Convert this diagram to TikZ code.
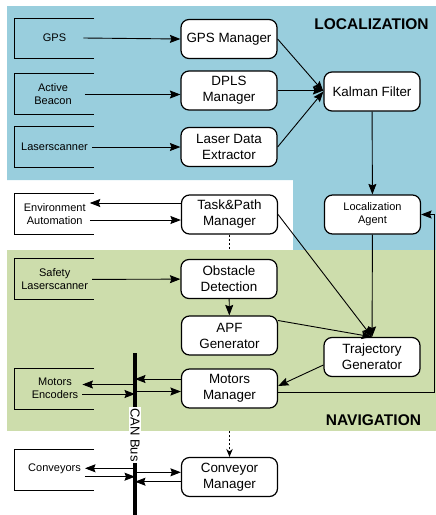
\documentclass[tikz,border=0pt]{standalone}
\usepackage{fontspec}
\setmainfont{Liberation Sans}
\usetikzlibrary{arrows.meta}
\definecolor{locblue}{RGB}{153,206,221}
\definecolor{navgreen}{RGB}{205,221,172}
\tikzstyle{module}=[draw,fill=white,rounded corners=8pt,line width=1.2pt,minimum width=96pt,minimum height=39pt,align=center,inner sep=1pt,font=\fontsize{13.4}{16}\selectfont]
\tikzstyle{srcbox}=[minimum width=79pt,minimum height=40pt,inner sep=0pt]
\tikzstyle{srctext}=[align=center,inner sep=4pt,font=\fontsize{11}{13}\selectfont]
\tikzstyle{region}=[font=\bfseries\fontsize{15.5}{18}\selectfont]
\tikzstyle{arr}=[line width=0.9pt,-{Stealth[length=10.5pt,width=8pt,inset=1.5pt]}]
\tikzstyle{link}=[line width=0.9pt,dash pattern=on 2pt off 2pt]
\newcommand{\openframe}[1]{\draw[line width=1.1pt] (#1.north east) -- (#1.north west) -- (#1.south west) -- (#1.south east);}

\begin{document}
\begin{tikzpicture}[x=1pt,y=-1pt]
    \useasboundingbox (0,0) rectangle (436,515);
    % areas
    \fill[locblue] (7,6) -- (436,6) -- (436,250) -- (293,250) -- (293,180) -- (7,180) -- cycle;
    \fill[navgreen] (7,250) rectangle (436,431);
    \node[region] (loc) at (371.5,24.5) {LOCALIZATION};
    \node[region] (nav) at (373.5,420.5) {NAVIGATION};

    % sources
    \node[srcbox] (gpsf) at (54.5,38.5) {};
    \node[srcbox] (beaconf) at (54.5,94) {};
    \node[srcbox] (lscf) at (54.5,147) {};
    \node[srcbox] (envf) at (54.5,214) {};
    \node[srcbox] (safetyf) at (54.5,279) {};
    \node[srcbox] (encf) at (54.5,389) {};
    \node[srcbox] (convf) at (54.5,470) {};
    \foreach \f in {gpsf,beaconf,lscf,envf,safetyf,encf,convf}
    {\openframe{\f}}

    \node[srctext] (gps) at (54.5,38) {GPS};
    \node[srctext] (beacon) at (53,94.5) {Active\\Beacon};
    \node[srctext] (lsc) at (54.5,147) {Laserscanner};
    \node[srctext] (env) at (54.7,214) {Environment\\Automation};
    \node[srctext] (safety) at (54.7,279.5) {Safety\\Laserscanner};
    \node[srctext] (enc) at (55,388.5) {Motors\\Encoders};
    \node[srctext] (conv) at (54.5,469) {Conveyors};

    % modules
    \node[module] (gpsman) at (229,39) {GPS Manager};
    \node[module] (dpls) at (229,90.5) {DPLS\\Manager};
    \node[module] (laser) at (229,147) {Laser Data\\Extractor};
    \node[module] (kalman) at (372,91.5) {Kalman Filter};
    \node[module,font=\fontsize{11}{13}\selectfont] (locagent) at (372.5,214.5) {Localization\\Agent};
    \node[module] (task) at (229.5,214.5) {Task\&Path\\Manager};
    \node[module] (obstacle) at (229,279) {Obstacle\\Detection};
    \node[module] (apf) at (229.5,335.5) {APF\\Generator};
    \node[module] (traj) at (372,357) {Trajectory\\Generator};
    \node[module] (motors) at (229.5,388.5) {Motors\\Manager};
    \node[module] (conveyor) at (229.5,477) {Conveyor\\Manager};

    \coordinate (bustop) at (135,353);
    \coordinate (busbot) at (135,515);
    \coordinate (wbot) at (229.5,250);
    \coordinate (gbot) at (229.5,431);

    \foreach \from/\to in {lsc/laser,safety/obstacle,gpsman.east/kalman.west,laser.east/kalman.west,kalman/locagent,locagent/traj,task.east/traj.north,obstacle/apf}
    \draw[arr] (\from) -- (\to);
    \draw[arr] ([xshift=13pt]gps.east) -- (gpsman.west);
    \draw[arr] ([xshift=9pt]beacon.east) -- (beacon.east -| dpls.west);
    \draw[arr] (dpls.east) -- (dpls.east -| kalman.west);
    \draw[arr] ([yshift=15pt]apf.east) -- (traj.north);
    \draw[arr] ([yshift=-8pt]traj.west) -- ([yshift=2.5pt]motors.east);
    \draw[arr] ([yshift=-4pt]motors.east) -| ([xshift=13pt]locagent.east) -- (locagent.east);
    \draw[arr] ([yshift=11.5pt]task.west) -- ([yshift=11.5pt]task.west -| env.east);
    \draw[arr] ([yshift=-5.5pt]task.west -| env.east) -- ([yshift=-5.5pt]task.west);
    \draw[link] (task.south) -- (wbot);
    \draw[link,-{Stealth[length=8pt,width=6.5pt]}] (gbot) -- (conveyor.north);

    % CAN bus
    \draw[arr] ([yshift=9.5pt]motors.west) -- ([yshift=9.5pt]motors.west -| bustop);
    \draw[arr] ([yshift=-3pt]motors.west -| bustop) -- ([yshift=-3pt]motors.west);
    \draw[arr] ([yshift=4pt]motors.west -| bustop) -- ([yshift=4pt]motors.west -| enc.east);
    \draw[arr] ([yshift=-5.5pt]motors.west -| enc.east) -- ([yshift=-5.5pt]motors.west -| bustop);
    \draw[arr] ([yshift=8.7pt]conveyor.west -| bustop) -- ([yshift=8.7pt]conveyor.west -| conv.east);
    \draw[arr] ([yshift=0.3pt]conveyor.west -| conv.east) -- ([yshift=0.3pt]conveyor.west -| bustop);
    \draw[arr] ([yshift=4.7pt]conveyor.west -| bustop) -- ([yshift=4.7pt]conveyor.west);
    \draw[arr] ([yshift=-4.7pt]conveyor.west) -- ([yshift=-4.7pt]conveyor.west -| bustop);
    \draw[line width=3.5pt] (bustop) -- (busbot);
    \node[fill=white,inner sep=1pt,rotate=-90,font=\fontsize{13}{15}\selectfont] (can) at (135,435) {CAN Bus};
\end{tikzpicture}
\end{document}
